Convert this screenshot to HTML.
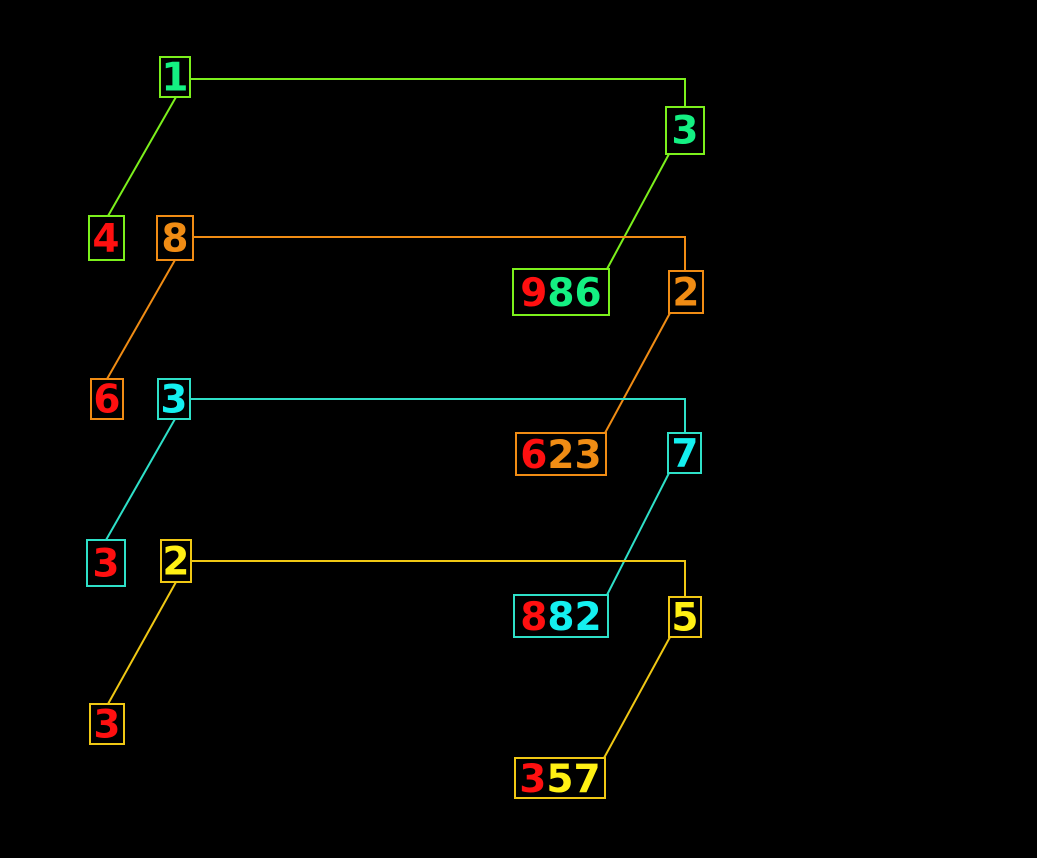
<!DOCTYPE html>
<html><head><meta charset="utf-8"><style>
html,body{margin:0;padding:0;background:#000;}
svg{display:block}
text{font-family:"DejaVu Sans","Liberation Sans",sans-serif;font-weight:bold;font-size:39px;text-anchor:middle;dominant-baseline:central}
</style></head><body>
<svg width="1037" height="858" viewBox="0 0 1037 858" xmlns="http://www.w3.org/2000/svg">
<rect width="1037" height="858" fill="#000"/>
<g fill="none" stroke-width="2">
<g stroke="#7cf01c">
<polyline points="190,79 685,79 685,107"/>
<line x1="176" y1="97" x2="108" y2="216"/>
<line x1="669" y1="154" x2="607" y2="269"/>
<rect x="160" y="57" width="30" height="40"/>
<rect x="89" y="216" width="35" height="44"/>
<rect x="666" y="107" width="38" height="47"/>
<rect x="513" y="269" width="96" height="46"/>
</g>
<g stroke="#f08c14">
<polyline points="193,237 685,237 685,271"/>
<line x1="175" y1="260" x2="107" y2="379"/>
<line x1="670" y1="313" x2="605" y2="433"/>
<rect x="157" y="216" width="36" height="44"/>
<rect x="91" y="379" width="32" height="40"/>
<rect x="669" y="271" width="34" height="42"/>
<rect x="516" y="433" width="90" height="42"/>
</g>
<g stroke="#2ee0c8">
<polyline points="190,399 685,399 685,433"/>
<line x1="175" y1="419" x2="106" y2="540"/>
<line x1="669" y1="473" x2="607" y2="595"/>
<rect x="158" y="379" width="32" height="40"/>
<rect x="87" y="540" width="38" height="46"/>
<rect x="668" y="433" width="33" height="40"/>
<rect x="514" y="595" width="94" height="42"/>
</g>
<g stroke="#f0c814">
<polyline points="191,561 685,561 685,597"/>
<line x1="176" y1="582" x2="108" y2="704"/>
<line x1="670" y1="637" x2="604" y2="758"/>
<rect x="161" y="540" width="30" height="42"/>
<rect x="90" y="704" width="34" height="40"/>
<rect x="669" y="597" width="32" height="40"/>
<rect x="515" y="758" width="90" height="40"/>
</g>
</g>
<text x="175" y="78" fill="#14f082">1</text>
<text x="106" y="239" fill="#ff1010">4</text>
<text x="685" y="131" fill="#14f082">3</text>
<text x="561" y="293"><tspan fill="#ff1010">9</tspan><tspan fill="#14f082">86</tspan></text>

<text x="175" y="239" fill="#f08c14">8</text>
<text x="107" y="400" fill="#ff1010">6</text>
<text x="686" y="293" fill="#f08c14">2</text>
<text x="561" y="455"><tspan fill="#ff1010">6</tspan><tspan fill="#f08c14">23</tspan></text>

<text x="174" y="400" fill="#14f0f0">3</text>
<text x="106" y="564" fill="#ff1010">3</text>
<text x="685" y="454" fill="#14f0f0">7</text>
<text x="561" y="617"><tspan fill="#ff1010">8</tspan><tspan fill="#14f0f0">82</tspan></text>

<text x="176" y="562" fill="#fff014">2</text>
<text x="107" y="725" fill="#ff1010">3</text>
<text x="685" y="618" fill="#fff014">5</text>
<text x="560" y="779"><tspan fill="#ff1010">3</tspan><tspan fill="#fff014">57</tspan></text>
</svg>
</body></html>
